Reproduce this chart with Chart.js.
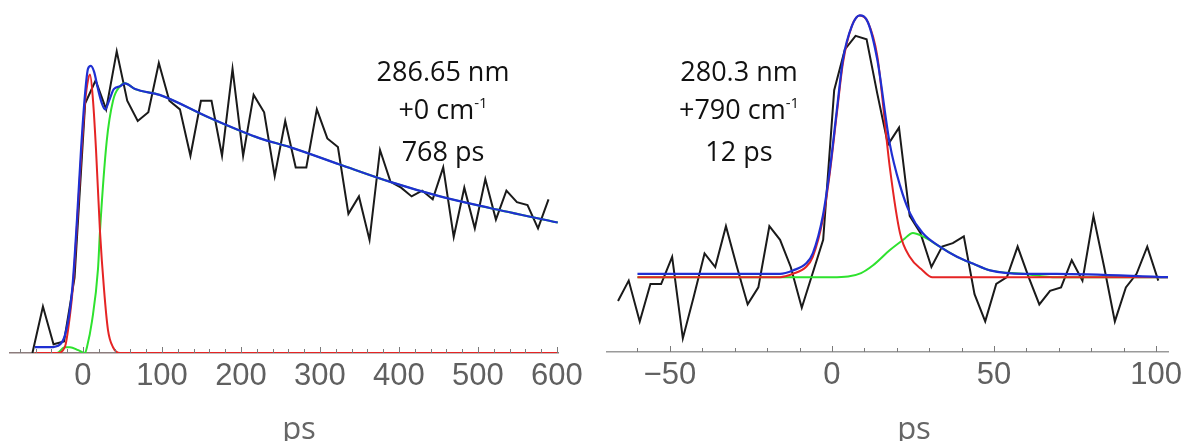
<!DOCTYPE html>
<html>
<head>
<meta charset="utf-8">
<script src="https://cdn.jsdelivr.net/npm/chart.js@4.4.1/dist/chart.umd.min.js"></script>
<style>
  html, body { margin: 0; padding: 0; background: #fff; }
  #wrap { position: relative; width: 1183px; height: 441px; overflow: hidden; }
  canvas { position: absolute; top: 0; }
  #chartL { left: 0; }
  #chartR { left: 600px; }
  .note {
    position: absolute; top: 52px; transform: translateX(-50%);
    font-family: "Open Sans", sans-serif; font-size: 27px; line-height: 38px;
    color: #111; text-align: center; white-space: nowrap;
  }
  .note .sup { font-size: 15px; position: relative; top: -11px; }
  .unit {
    position: absolute; top: 412px; transform: translateX(-50%);
    font-family: "Open Sans", sans-serif; font-size: 31px; line-height: 31px; color: #666;
  }
</style>
</head>
<body>
<div id="wrap">
  <canvas id="chartL" width="600" height="441"></canvas>
  <canvas id="chartR" width="583" height="441"></canvas>
  <div class="note" style="left:443px">286.65 nm<br>+0 cm<span class="sup">-1</span><br>768 ps</div>
  <div class="note" style="left:739px">280.3 nm<br>+790 cm<span class="sup">-1</span><br>12 ps</div>
  <div class="unit" style="left:299px">ps</div>
  <div class="unit" style="left:914px">ps</div>
</div>
<script>
// Left panel: 286.65 nm, time axis in ps, signal in arbitrary units
const leftTimes = [-64, -50.7, -37.3, -24, -10.7, 2.7, 16, 29.3, 42.7, 56, 69.3, 82.7, 96, 109.3, 122.7,
  136, 149.3, 162.7, 176, 189.3, 202.7, 216, 229.3, 242.7, 256, 269.3, 282.7, 296, 309.3, 322.7,
  336, 349.3, 362.7, 376, 389.3, 402.7, 416, 429.3, 442.7, 456, 469.3, 482.7, 496, 509.3, 522.7,
  536, 549.3, 562.7, 576, 589.3];
const leftSignal = [0.00, 0.16, 0.03, 0.04, 0.26, 0.86, 0.94, 0.84, 1.04, 0.87, 0.80, 0.83, 1.00, 0.87, 0.84,
  0.68, 0.87, 0.87, 0.68, 0.98, 0.68, 0.89, 0.83, 0.61, 0.80, 0.64, 0.64, 0.84, 0.74, 0.71,
  0.48, 0.54, 0.39, 0.70, 0.59, 0.57, 0.54, 0.56, 0.53, 0.64, 0.40, 0.57, 0.43, 0.60, 0.46,
  0.56, 0.52, 0.51, 0.43, 0.53];

// total fit (blue), fast component (red), slow 768 ps component (green)
const leftFitT = [-61, -42, -29, -23, -16.5, -12.7, -7.6, -2.5, 2.5, 6.3, 10, 14, 19, 24, 28, 33, 39, 47, 53,
  66, 97, 161, 224, 262, 325, 389, 452, 515, 601];
const leftFit = [0.02, 0.02, 0.03, 0.06, 0.15, 0.25, 0.46, 0.70, 0.89, 0.98, 0.99, 0.97, 0.91, 0.86, 0.84, 0.87, 0.91, 0.92, 0.93,
  0.91, 0.89, 0.81, 0.74, 0.71, 0.65, 0.59, 0.54, 0.50, 0.45];

const leftFastT = [-61, -33, -23, -16.5, -12.7, -7.6, -2.5, 2.5, 6.3, 8.9, 12.7, 16.5, 21.5, 26.6, 31.6, 38, 47, 601];
const leftFast = [0, 0, 0.02, 0.13, 0.23, 0.44, 0.67, 0.86, 0.94, 0.96, 0.87, 0.70, 0.42, 0.22, 0.08, 0.02, 0, 0];

const leftSlowT = [-61, -33, -23, -16.5, -6, 2.5, 5, 11.4, 19, 21.5, 30, 38, 47, 53, 66, 97, 161, 224, 262,
  325, 389, 452, 515, 601];
const leftSlow = [0, 0, 0.02, 0.02, 0.01, 0, 0.02, 0.11, 0.29, 0.42, 0.73, 0.87, 0.92, 0.93, 0.91, 0.89, 0.81, 0.74, 0.71,
  0.65, 0.59, 0.54, 0.50, 0.45];

// Right panel: 280.3 nm
const rightTimes = [-66, -62.7, -59.3, -56, -52.7, -49.3, -46, -42.7, -39.3, -36, -32.7, -29.3, -26, -22.7,
  -19.3, -16, -12.7, -9.3, -6, -2.7, 0.7, 4, 7.3, 10.7, 14, 17.3, 20.7, 24, 27.3, 30.7, 34, 37.3,
  40.7, 44, 47.3, 50.7, 54, 57.3, 60.7, 64, 67.3, 70.7, 74, 77.3, 80.7, 84, 87.3, 90.7, 94, 97.3, 100.7];
const rightSignal = [0.15, 0.21, 0.09, 0.20, 0.20, 0.28, 0.04, 0.16, 0.29, 0.25, 0.37, 0.25, 0.14, 0.19,
  0.37, 0.33, 0.25, 0.13, 0.23, 0.33, 0.77, 0.89, 0.93, 0.92, 0.76, 0.61, 0.66, 0.40, 0.35, 0.25, 0.31, 0.32,
  0.34, 0.17, 0.09, 0.20, 0.22, 0.31, 0.22, 0.14, 0.18, 0.19, 0.27, 0.21, 0.40, 0.25, 0.09, 0.19, 0.23, 0.31, 0.21];

const rightFitT = [-60, -30, -16, -12, -8, -5.9, -2.8, -0.6, 1.5, 3.4, 6.2, 8.6, 11.1, 14, 17.9, 21, 24, 28,
  33.3, 38.6, 43.5, 48.8, 59, 69.4, 104];
const rightFit = [0.23, 0.23, 0.23, 0.24, 0.26, 0.29, 0.40, 0.54, 0.71, 0.86, 0.96, 0.99, 0.97, 0.86, 0.61, 0.49, 0.41, 0.35,
  0.31, 0.28, 0.26, 0.24, 0.23, 0.23, 0.22];

const rightFastT = [-60, -16, -12, -8, -5.9, -2.8, -0.6, 1.5, 3.4, 6.2, 8.6, 11.1, 14, 17.9, 21, 24, 28, 31, 104];
const rightFast = [0.22, 0.22, 0.23, 0.25, 0.28, 0.39, 0.53, 0.70, 0.85, 0.96, 0.99, 0.97, 0.87, 0.54, 0.35, 0.28, 0.24, 0.22, 0.22];

const rightSlowT = [-60, 0, 5, 9, 12.7, 17.9, 22, 25, 28, 33.3, 38.6, 43.5, 48.8, 59, 69.4, 104];
const rightSlow = [0.22, 0.22, 0.222, 0.232, 0.255, 0.30, 0.33, 0.35, 0.34, 0.31, 0.28, 0.26, 0.24, 0.23, 0.22, 0.22];

function pts(t, v) {
  return t.map((x, i) => ({ x: x, y: v[i] }));
}

function line(data, color, smooth, width) {
  return {
    data: data,
    borderColor: color,
    borderWidth: width,
    pointRadius: 0,
    fill: false,
    tension: 0,
    cubicInterpolationMode: smooth ? "monotone" : "default"
  };
}

function fmt(v) {
  return v < 0 ? "\u2212" + (-v) : String(v);
}

// small tick marks pointing up into the plot, like the original
const innerTicks = {
  id: "innerTicks",
  afterDatasetsDraw(chart, args, opts) {
    const s = chart.scales.x;
    const ctx = chart.ctx;
    ctx.save();
    ctx.strokeStyle = "#7a7a7a";
    ctx.lineWidth = 1;
    s.ticks.forEach(t => {
      const x = Math.round(s.getPixelForValue(t.value)) + 0.5;
      const len = t.value % opts.major === 0 ? 6 : 4;
      ctx.beginPath();
      ctx.moveTo(x, s.top);
      ctx.lineTo(x, s.top - len);
      ctx.stroke();
    });
    ctx.restore();
  }
};

function makeChart(id, o) {
  return new Chart(document.getElementById(id), {
    type: "line",
    data: {
      datasets: [
        line(pts(o.fitT, o.fit), "#1f2fd2", true, 2.2),
        line(pts(o.fastT, o.fast), "#e52424", true, 2),
        line(pts(o.slowT, o.slow), "#2ee22e", true, 2),
        line(pts(o.t, o.sig), "#1a1a1a", false, 2)
      ]
    },
    options: {
      responsive: false,
      animation: false,
      devicePixelRatio: 1,
      layout: { padding: o.pad },
      plugins: { legend: { display: false }, tooltip: { enabled: false }, innerTicks: { major: o.major } },
      events: [],
      scales: {
        x: {
          type: "linear",
          min: o.xmin,
          max: o.xmax,
          afterFit: s => { s.height = o.axisH; s.paddingLeft = 0; s.paddingRight = 0; },
          border: { display: true, color: o.axisColor, width: 1.5 },
          grid: { display: false, drawOnChartArea: false, drawTicks: false },
          ticks: {
            stepSize: o.step,
            includeBounds: false,
            autoSkip: false,
            maxRotation: 0,
            padding: 5,
            color: "#606060",
            font: { family: "Liberation Sans", size: 31 },
            callback: v => (v % o.major === 0 ? fmt(v) : "")
          }
        },
        y: { display: false, min: 0, max: o.ymax }
      }
    },
    plugins: [innerTicks]
  });
}

makeChart("chartL", {
  t: leftTimes, sig: leftSignal, fitT: leftFitT, fit: leftFit,
  fastT: leftFastT, fast: leftFast, slowT: leftSlowT, slow: leftSlow,
  xmin: -92.4, xmax: 601.3, ymax: 1.2, step: 20, major: 100,
  pad: { left: 10, right: 42, top: 5, bottom: 0 }, axisH: 88, axisColor: "#8c7c7c"
});

makeChart("chartR", {
  t: rightTimes, sig: rightSignal, fitT: rightFitT, fit: rightFit,
  fastT: rightFastT, fast: rightFast, slowT: rightSlowT, slow: rightSlow,
  xmin: -69.4, xmax: 103.7, ymax: 1.0206, step: 10, major: 50,
  pad: { left: 7, right: 15, top: 5, bottom: 0 }, axisH: 89, axisColor: "#9a9a9a"
});
</script>
</body>
</html>
